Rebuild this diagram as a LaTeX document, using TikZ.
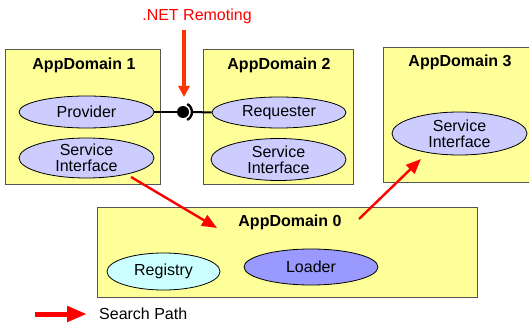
\documentclass[tikz,border=0pt]{standalone}
\usepackage{fontspec}
\setmainfont{Liberation Sans}
\usetikzlibrary{shapes.geometric,arrows.meta}
\definecolor{boxfill}{HTML}{FFFF99}
\definecolor{boxline}{HTML}{555555}
\definecolor{ellfill}{HTML}{CCCCFF}
\definecolor{regfill}{HTML}{CCFFFF}
\definecolor{loadfill}{HTML}{9999FF}
\definecolor{redarrow}{HTML}{FF0000}
\definecolor{orangered}{HTML}{FF3300}
\tikzset{
  appbox/.style={draw=boxline, line width=0.9pt, fill=boxfill, rectangle, inner sep=0pt},
  dtitle/.style={font=\fontsize{16}{18}\selectfont\bfseries, inner sep=0pt},
  ell/.style={draw=black, line width=0.8pt, fill=ellfill, ellipse, inner sep=0pt,
    font=\fontsize{16}{18}\selectfont, align=center},
  searcharrow/.style={draw=redarrow, line width=2.4pt, -{Triangle[length=15pt,width=12pt]}},
  lbl/.style={font=\fontsize{16}{18}\selectfont, inner sep=0pt}
}
\begin{document}
\begin{tikzpicture}[x=1pt,y=-1pt]
\useasboundingbox (0,0) rectangle (529,323);
\clip (0,0) rectangle (529,323);
% domains
\node[appbox, minimum width=155pt, minimum height=135pt] (d1) at (82.5,116.5) {};
\node[appbox, minimum width=150pt, minimum height=135pt] (d2) at (278,116.5) {};
\node[appbox, minimum width=152pt, minimum height=135pt] (d3) at (459,114.5) {};
\node[appbox, minimum width=380pt, minimum height=90pt] (d0) at (287,252) {};
% titles
\node[dtitle] (t1) at (84,65) {AppDomain 1};
\node[dtitle] (t2) at (279,65) {AppDomain 2};
\node[dtitle] (t3) at (460,62) {AppDomain 3};
\node[dtitle] (t0) at (290,222) {AppDomain 0};
% ellipses
\node[ell, minimum width=135pt, minimum height=32pt] (prov) at (86.5,112) {Provider};
\node[ell, minimum width=135pt, minimum height=40pt] (si1) at (86.5,158) {Service\\[-2pt]Interface};
\node[ell, minimum width=134pt, minimum height=31pt] (req) at (279,112.5) {Requester};
\node[ell, minimum width=135pt, minimum height=42pt] (si2) at (278.5,159.5) {Service\\[-2pt]Interface};
\node[ell, minimum width=135pt, minimum height=43pt] (si3) at (459.5,133.5) {Service\\[-2pt]Interface};
\node[ell, fill=regfill, minimum width=113pt, minimum height=37pt] (reg) at (163.5,271.5) {Registry};
\node[ell, fill=loadfill, minimum width=134pt, minimum height=36pt] (load) at (311,267) {Loader};
% lollipop connector
\node[circle, fill=black, minimum size=12pt, inner sep=0pt] (ball) at (183,112) {};
\coordinate (sockR) at (192.5,112);
\draw[line width=2pt] (prov.east) -- (ball.west);
\draw[line width=2.4pt] (183,112) ++(-62:9pt) arc (-62:62:9pt);
\draw[line width=2pt] (sockR) -- (req.west);
% .NET Remoting
\node[lbl, text=redarrow] (net) at (197,16) {.NET Remoting};
\coordinate (netA) at (184,30);
\coordinate (netB) at (184,97);
\draw[draw=orangered, line width=3.2pt, -{Triangle[length=11pt,width=11pt]}] (netA) -- (netB);
% search paths
\coordinate (s1a) at (131,177);
\coordinate (s1b) at (217,228);
\draw[searcharrow] (s1a) -- (s1b);
\coordinate (s2a) at (359,219);
\coordinate (s2b) at (421,159);
\draw[searcharrow] (s2a) -- (s2b);
% legend
\coordinate (la) at (35,314);
\coordinate (lb) at (87,314);
\draw[draw=redarrow, line width=5pt, -{Triangle[length=20pt,width=15pt]}] (la) -- (lb);
\node[lbl, anchor=west] (leg) at (99,314) {Search Path};
\end{tikzpicture}
\end{document}
